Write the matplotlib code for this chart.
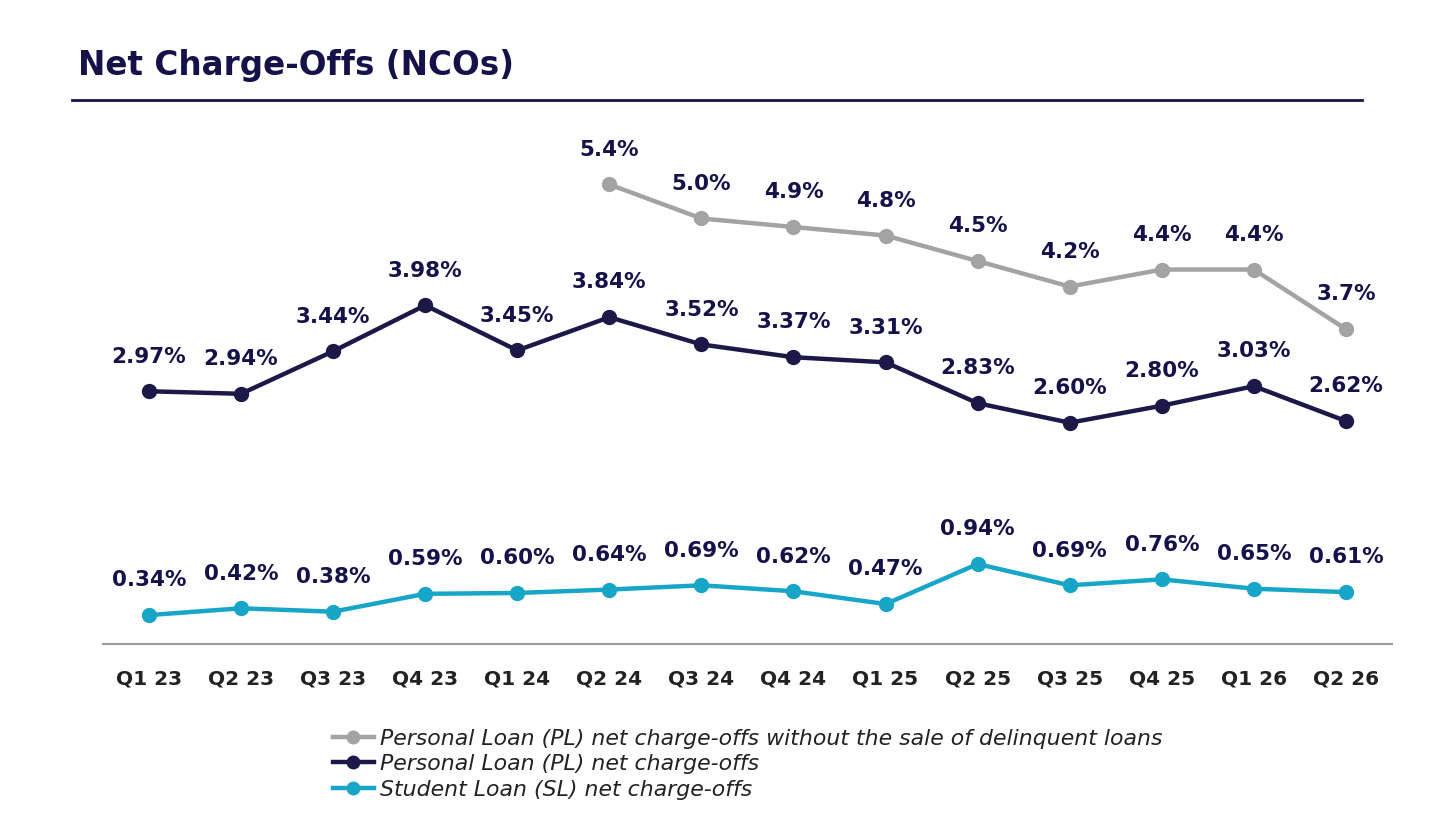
import matplotlib.pyplot as plt
from matplotlib.lines import Line2D

# data
quarters = ['Q1 23', 'Q2 23', 'Q3 23', 'Q4 23', 'Q1 24', 'Q2 24', 'Q3 24',
            'Q4 24', 'Q1 25', 'Q2 25', 'Q3 25', 'Q4 25', 'Q1 26', 'Q2 26']
pl_nco = [2.97, 2.94, 3.44, 3.98, 3.45, 3.84, 3.52, 3.37, 3.31, 2.83, 2.60, 2.80, 3.03, 2.62]
pl_adj_nco = [None, None, None, None, None, 5.4, 5.0, 4.9, 4.8, 4.5, 4.2, 4.4, 4.4, 3.7]
sl_nco = [0.34, 0.42, 0.38, 0.59, 0.60, 0.64, 0.69, 0.62, 0.47, 0.94, 0.69, 0.76, 0.65, 0.61]

navy = '#1c1848'
grey = '#a3a3a3'
cyan = '#17a5c8'
label_col = '#15124a'

fig = plt.figure(figsize=(14.56, 8.35), dpi=100)
ax = fig.add_axes([0.0707, 0.2287, 0.8853, 0.6396])

x = list(range(len(quarters)))

# grey series only starts at Q2 24
gx = [i for i, v in zip(x, pl_adj_nco) if v is not None]
gy = [v for v in pl_adj_nco if v is not None]

l1, = ax.plot(gx, gy, color=grey, lw=3.2, marker='o', ms=10, zorder=3)
l2, = ax.plot(x, pl_nco, color=navy, lw=3.2, marker='o', ms=10, zorder=3)
l3, = ax.plot(x, sl_nco, color=cyan, lw=3.2, marker='o', ms=10, zorder=3)

lab_kw = dict(textcoords='offset points', xytext=(0, 25), ha='center', va='center',
              fontsize=15.5, fontweight='bold', color=label_col)
for i, v in zip(gx, gy):
    ax.annotate(f'{v:.1f}%', (i, v), **lab_kw)
for i, v in zip(x, pl_nco):
    ax.annotate(f'{v:.2f}%', (i, v), **lab_kw)
for i, v in zip(x, sl_nco):
    ax.annotate(f'{v:.2f}%', (i, v), **lab_kw)

ax.set_xlim(-0.5, 13.5)
ax.set_ylim(0, 6.275)
ax.set_xticks(x)
ax.set_xticklabels(quarters, fontsize=14.5, fontweight='bold', color='#222222')
ax.tick_params(axis='x', length=0, pad=18)
ax.set_yticks([])
for s in ['top', 'right', 'left']:
    ax.spines[s].set_visible(False)
ax.spines['bottom'].set_color('#9a9a9a')
ax.spines['bottom'].set_linewidth(1.5)

# title and rule
fig.text(0.0536, 0.921, 'Net Charge-Offs (NCOs)', fontsize=23.5, fontweight='bold',
         color=label_col, va='center', ha='left')
fig.add_artist(Line2D([0.0495, 0.9355], [0.880, 0.880], color=label_col, lw=2))

leg = fig.legend([l1, l2, l3],
                 ['Personal Loan (PL) net charge-offs without the sale of delinquent loans',
                  'Personal Loan (PL) net charge-offs',
                  'Student Loan (SL) net charge-offs'],
                 loc='upper left', bbox_to_anchor=(0.2287, 0.1275), frameon=False,
                 prop={'size': 15.8, 'style': 'italic'}, handlelength=1.85,
                 handletextpad=0.3, labelspacing=0.25, borderpad=0, borderaxespad=0)
for t in leg.get_texts():
    t.set_color('#222222')
for h in leg.legend_handles:
    h.set_markersize(9)

fig.savefig('out.png', dpi=100)
